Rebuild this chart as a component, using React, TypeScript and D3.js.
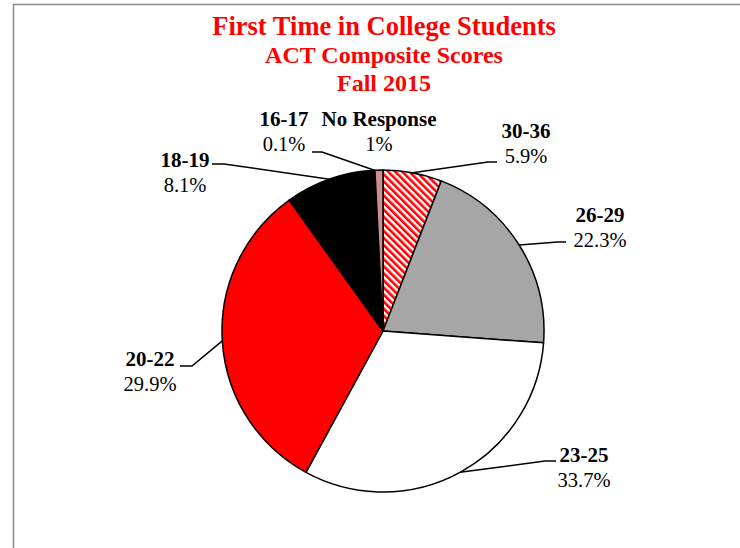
import React from "react";
import * as d3 from "d3";

const categories = ["30-36", "26-29", "23-25", "20-22", "18-19", "16-17", "No Response"];
// slice shares as drawn
const sliceShares = [5.9, 20.3, 31.8, 32.2, 9.0, 0.1, 0.8];
// percentage labels as printed
const pctLabels = ["5.9%", "22.3%", "33.7%", "29.9%", "8.1%", "0.1%", "1%"];
const titleLines = ["First Time in College Students", "ACT Composite Scores", "Fall 2015"];

const fills = ["url(#hatch)", "#A6A6A6", "#FFFFFF", "#FF0000", "#000000", "#7F7F7F", "#CC8E8E"];

// label layout: text center x, first baseline y, leader elbow, leader end
const labelLayout = [
  { x: 526, y: 138, elbow: [488, 162], end: [497, 162] },
  { x: 600, y: 222, elbow: [558, 242], end: [566, 242] },
  { x: 584, y: 462, elbow: [545, 461], end: [556, 461] },
  { x: 150, y: 366, elbow: [192, 366], end: [180, 366] },
  { x: 185, y: 167, elbow: [224, 164], end: [212, 164] },
  { x: 284, y: 126, elbow: [322, 152], end: [312, 152] },
  { x: 379, y: 126, elbow: null, end: null },
];

const W = 740;
const H = 548;
const cx = 383;
const cy = 331;
const R = 161;

export default function App() {
  const pie = d3.pie<number>().sort(null).value((d) => d).startAngle(0).endAngle(2 * Math.PI);
  const arcs = pie(sliceShares);
  const arc = d3.arc<d3.PieArcDatum<number>>().innerRadius(0).outerRadius(R);
  const font = "'Liberation Serif', 'Times New Roman', serif";

  return (
    <svg
      width={W}
      height={H}
      style={{ position: "absolute", left: 0, top: 0, background: "#fff" }}
      fontFamily={font}
    >
      <defs>
        <pattern id="hatch" width={5} height={5} patternUnits="userSpaceOnUse" patternTransform="rotate(-45)">
          <rect width={5} height={5} fill="#fff" />
          <rect width={2.6} height={5} fill="#FF0000" />
        </pattern>
      </defs>
      <rect x={0} y={0} width={W} height={H} fill="#fff" />
      <path d={`M13.5,${H} L13.5,4.5 L${W},4.5`} fill="none" stroke="#8C8C8C" strokeWidth={1.5} />

      {titleLines.map((t, i) => (
        <text
          key={t}
          x={384}
          y={[35, 63, 91][i]}
          textAnchor="middle"
          fill="#FF0000"
          fontWeight="bold"
          fontSize={i === 0 ? 26.5 : 24}
        >
          {t}
        </text>
      ))}

      <g transform={`translate(${cx},${cy})`}>
        {arcs.map((a, i) => (
          <path key={categories[i]} d={arc(a) || ""} fill={fills[i]} stroke="#000" strokeWidth={1.5} strokeLinejoin="round" />
        ))}
      </g>

      {arcs.map((a, i) => {
        const L = labelLayout[i];
        if (!L.elbow || !L.end) return null;
        const mid = (a.startAngle + a.endAngle) / 2;
        const sx = cx + R * Math.sin(mid);
        const sy = cy - R * Math.cos(mid);
        return (
          <polyline
            key={"l" + i}
            points={`${sx},${sy} ${L.elbow[0]},${L.elbow[1]} ${L.end[0]},${L.end[1]}`}
            fill="none"
            stroke="#000"
            strokeWidth={1.5}
          />
        );
      })}

      {categories.map((c, i) => {
        const L = labelLayout[i];
        return (
          <g key={"t" + c}>
            <text x={L.x} y={L.y} textAnchor="middle" fontWeight="bold" fontSize={21} fill="#000">
              {c}
            </text>
            <text x={L.x} y={L.y + 25} textAnchor="middle" fontSize={20.5} fill="#000">
              {pctLabels[i]}
            </text>
          </g>
        );
      })}
    </svg>
  );
}
